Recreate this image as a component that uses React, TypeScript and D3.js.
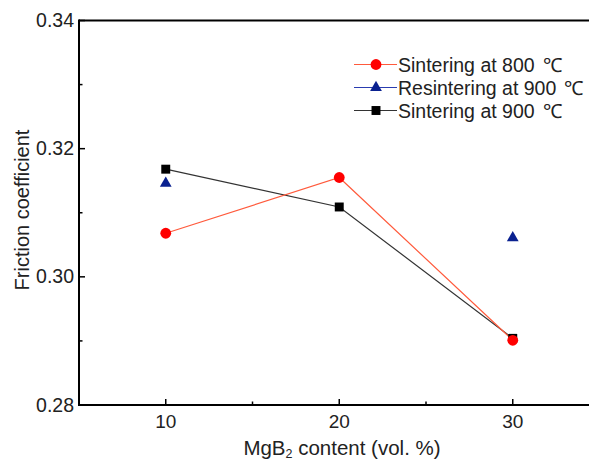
import React from "react";
import { scaleLinear, line, symbol, symbolTriangle, symbolSquare } from "d3";

// data
const contents = [10, 20, 30];
const sinter800 = [0.3068, 0.3155, 0.2901];
const resinter900: (number | null)[] = [0.3146, null, 0.3061];
const sinter900 = [0.3168, 0.3109, 0.2904];
const yTicks = [0.28, 0.3, 0.32, 0.34];
const yMinor = [0.29, 0.31, 0.33];
const xTicks = [10, 20, 30];
const xMinor = [15, 25];

const W = 589,
  H = 462;
const margin = { top: 20.5, left: 79, bottom: 57 };
const font = "'Liberation Sans', Arial, sans-serif";
const fs = 19;

const App = () => {
  const x = scaleLinear().domain([5, 35]).range([margin.left, 79 + 30 * 17.35]);
  const y = scaleLinear().domain([0.28, 0.34]).range([H - margin.bottom, margin.top]);

  const path = line<number>()
    .x((d, i) => x(contents[i]))
    .y((d) => y(d));

  const tri = symbol().type(symbolTriangle).size(60)()!;
  const sq = symbol().type(symbolSquare).size(80)()!;

  const legend = [
    { label: "Sintering at 800", line: "#ff5a3c", kind: "circle" },
    { label: "Resintering at 900", line: "#2a3cb0", kind: "tri" },
    { label: "Sintering at 900", line: "#333333", kind: "square" },
  ];

  const marker = (kind: string, cx: number, cy: number, key: string) => {
    if (kind === "circle") return <circle key={key} cx={cx} cy={cy} r={5.4} fill="#ff0000" />;
    if (kind === "tri")
      return <path key={key} d={tri} transform={`translate(${cx},${cy})`} fill="#0a2190" />;
    return <path key={key} d={sq} transform={`translate(${cx},${cy})`} fill="#000" />;
  };

  const x0 = margin.left,
    y0 = y(0.28),
    yTop = y(0.34);

  return (
    <svg width={W} height={H} style={{ position: "absolute", left: 0, top: 0 }} fontFamily={font}>
      <rect width={W} height={H} fill="#fff" />
      {/* series */}
      <path d={path(sinter900)!} fill="none" stroke="#333" strokeWidth={1.2} />
      <path d={path(sinter800)!} fill="none" stroke="#ff5a3c" strokeWidth={1.2} />
      {sinter900.map((v, i) => marker("square", x(contents[i]), y(v), "s9" + i))}
      {resinter900.map((v, i) => (v == null ? null : marker("tri", x(contents[i]), y(v), "r9" + i)))}
      {sinter800.map((v, i) => marker("circle", x(contents[i]), y(v), "s8" + i))}

      {/* axes */}
      <line x1={x0} x2={W} y1={y0} y2={y0} stroke="#000" strokeWidth={2} />
      <line x1={x0} x2={W} y1={yTop} y2={yTop} stroke="#000" strokeWidth={2} />
      <line x1={x0} x2={x0} y1={yTop - 1} y2={y0 + 1} stroke="#000" strokeWidth={2} />
      {xTicks.map((t) => (
        <g key={"xt" + t}>
          <line x1={x(t)} x2={x(t)} y1={y0} y2={y0 - 6} stroke="#000" strokeWidth={1.5} />
          <text x={x(t)} y={y0 + 23} textAnchor="middle" fontSize={fs} fill="#222">
            {t}
          </text>
        </g>
      ))}
      {xMinor.map((t) => (
        <line key={"xm" + t} x1={x(t)} x2={x(t)} y1={y0} y2={y0 - 3.5} stroke="#000" strokeWidth={1.5} />
      ))}
      {yTicks.map((t) => (
        <g key={"yt" + t}>
          <line x1={x0} x2={x0 + 6} y1={y(t)} y2={y(t)} stroke="#000" strokeWidth={1.5} />
          <text x={x0 - 5} y={y(t) + 6.5} textAnchor="end" fontSize={fs + 0.5} fill="#222">
            {t.toFixed(2)}
          </text>
        </g>
      ))}
      {yMinor.map((t) => (
        <line key={"ym" + t} x1={x0} x2={x0 + 3.5} y1={y(t)} y2={y(t)} stroke="#000" strokeWidth={1.5} />
      ))}

      {/* axis titles */}
      <text x={342} y={455} textAnchor="middle" fontSize={20.5} fill="#222">
        MgB<tspan fontSize={12.5} dy={3}>2</tspan>
        <tspan dy={-3}> content (vol. %)</tspan>
      </text>
      <text transform="translate(29,210) rotate(-90)" textAnchor="middle" fontSize={20} fill="#222">
        Friction coefficient
      </text>

      {/* legend */}
      {legend.map((l, i) => {
        const ly = 64.5 + i * 23;
        return (
          <g key={"lg" + i}>
            <line x1={354} x2={397} y1={ly} y2={ly} stroke={l.line} strokeWidth={1} />
            {marker(l.kind, 376, ly, "lm" + i)}
            <text x={398} y={ly + 7} fontSize={19.5} fill="#222">
              {l.label}
              <tspan dx={8}>{"\u2103"}</tspan>
            </text>
          </g>
        );
      })}
    </svg>
  );
};

export default App;
